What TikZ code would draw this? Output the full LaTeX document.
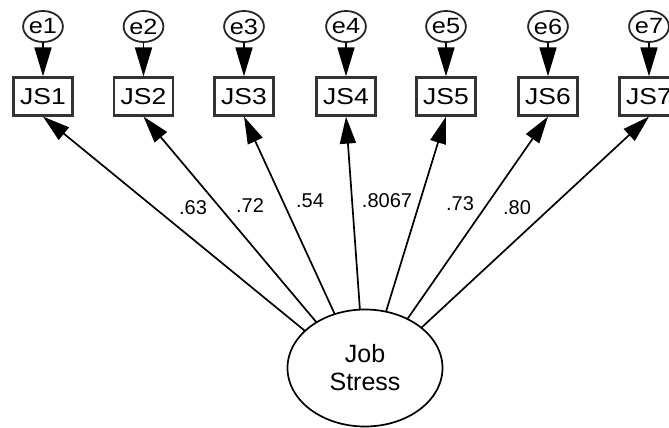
\documentclass[tikz,border=0pt]{standalone}
\usepackage{fontspec}
\setmainfont{Liberation Sans}
\newfontfamily\wideFont[FakeStretch=1.15]{Liberation Sans}
\usetikzlibrary{arrows.meta,shapes.geometric}
\begin{document}
\begin{tikzpicture}[x=1pt,y=-1pt,
 errnode/.style={ellipse,draw=black!85,line width=1.8pt,minimum width=37pt,minimum height=31pt,inner sep=0pt,font=\wideFont\fontsize{22}{22}\selectfont},
 obsnode/.style={rectangle,draw=black!80,line width=2.2pt,minimum width=59pt,minimum height=38pt,inner sep=0pt,font=\wideFont\fontsize{23}{23}\selectfont},
 latnode/.style={ellipse,draw,fill=white,line width=1.7pt,minimum width=155pt,minimum height=117pt,inner sep=0pt,align=center,font=\fontsize{25}{28}\selectfont},
 errline/.style={line width=1.7pt,-{Triangle[length=29pt,width=17pt]}},
 pathline/.style={line width=1.7pt,-{Triangle[length=27pt,width=16pt]}},
 coef/.style={font=\fontsize{20}{20}\selectfont,inner sep=0pt}
]
\useasboundingbox (0,0) rectangle (669,428);
\clip (0,0) rectangle (669,428);
\coordinate (hub) at (365,380);
\foreach \i/\x in {1/43,2/143.5,3/244,4/346,5/446,6/548,7/649}{
  \node[obsnode] (js\i) at (\x,96.5) {JS\i};
  \node[errnode] (e\i) at (\x,26.5) {e\i};
  \draw[errline] (e\i) -- (js\i);
  \draw[pathline] (hub) -- (js\i.south);
}
\node[latnode] (lv) at (365,368) {Job\\Stress};
\node[coef] (c1) at (193,208) {.63};
\node[coef] (c2) at (250,206) {.72};
\node[coef] (c3) at (310,201) {.54};
\node[coef] (c4) at (387,201) {.8067};
\node[coef] (c5) at (460,204) {.73};
\node[coef] (c6) at (517,208) {.80};
\end{tikzpicture}
\end{document}
